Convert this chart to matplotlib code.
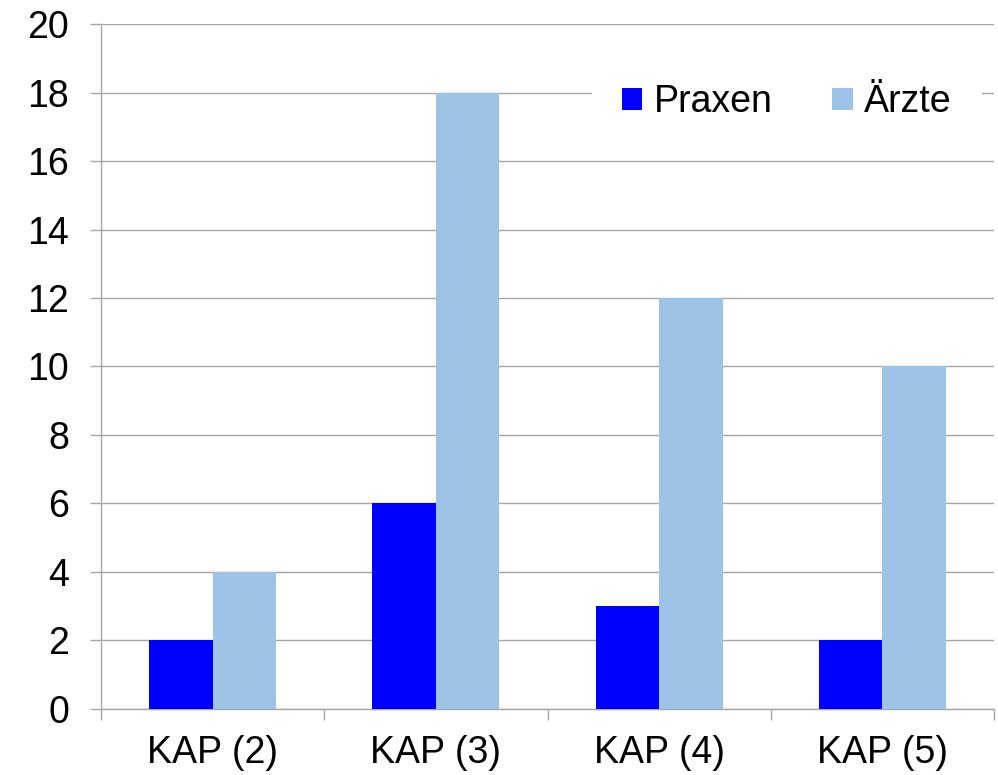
import matplotlib.pyplot as plt
import numpy as np

plt.rcParams['font.family'] = ['Liberation Sans', 'DejaVu Sans']

categories = ['KAP (2)', 'KAP (3)', 'KAP (4)', 'KAP (5)']
praxen = [2, 6, 3, 2]
aerzte = [4, 18, 12, 10]

grid_col = '#a6a6a6'
x = np.arange(len(categories))
w = 0.284

fig = plt.figure(figsize=(9.98, 7.75), dpi=100)
ax = fig.add_axes([0.1012, 0.0852, 0.8948, 0.8838])

ax.bar(x - w / 2, praxen, w, color='#0000ff', label='Praxen', zorder=3)
ax.bar(x + w / 2, aerzte, w, color='#9dc3e6', label='Ärzte', zorder=3)

ax.set_xlim(-0.5, len(categories) - 0.5)
ax.set_ylim(0, 20)
ax.set_yticks(np.arange(0, 21, 2))
ax.yaxis.grid(True, color=grid_col, linewidth=1.0, zorder=0)
ax.set_axisbelow(True)

ax.set_xticks(x)
ax.set_xticklabels(categories)
ax.set_xticks(np.arange(-0.5, len(categories), 1), minor=True)
ax.tick_params(axis='x', which='major', length=0, pad=19, labelsize=27)
ax.tick_params(axis='x', which='minor', length=8, width=1.0, color=grid_col)
ax.tick_params(axis='y', length=8, width=1.0, color=grid_col, pad=15, labelsize=27)

for s in ['top', 'right']:
    ax.spines[s].set_visible(False)
for s in ['left', 'bottom']:
    ax.spines[s].set_color(grid_col)
    ax.spines[s].set_linewidth(1.0)

leg = ax.legend(loc='center', bbox_to_anchor=(0.768, 0.886), ncol=2, fontsize=27,
                frameon=True, facecolor='white', edgecolor='none', framealpha=1,
                fancybox=False, handlelength=0.55, handleheight=0.55,
                handletextpad=0.3, columnspacing=1.6, borderpad=0.8)
leg.set_zorder(5)

fig.savefig('out.png', dpi=100)
